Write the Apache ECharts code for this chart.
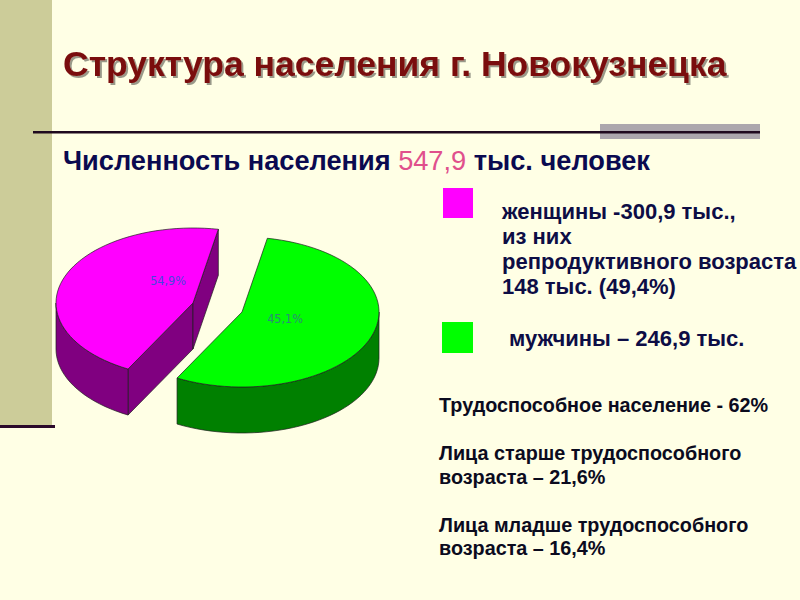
<!DOCTYPE html>
<html>
<head>
<meta charset="utf-8">
<script src="https://cdn.jsdelivr.net/npm/echarts@6/dist/echarts.min.js"></script>
<style>
  html, body { margin: 0; padding: 0; background: #ffffe5; }
  #chart { width: 800px; height: 600px; }
</style>
</head>
<body>
<div id="chart"></div>
<script>
// Data
const categories = ['женщины', 'мужчины'];
// slice sizes as drawn in the picture (magenta, green)
const sliceShares = [45.1, 54.9];
// percent labels as printed on the slices
const sliceLabels = ['54,9%', '45,1%'];
const titleText = 'Структура населения г. Новокузнецка';
const totalText = ['Численность населения ', '547,9', ' тыс. человек'];
const womenLines = ['женщины -300,9 тыс.,', 'из них', 'репродуктивного возраста', '148 тыс. (49,4%)'];
const menLine = 'мужчины – 246,9 тыс.';
const workLines = [
    'Трудоспособное население - 62%',
    'Лица старше трудоспособного',
    'возраста – 21,6%',
    'Лица младше трудоспособного',
    'возраста – 16,4%'
];

// Styles / layout
const sans = "'Liberation Sans', Arial, sans-serif";
const narrow = "'Liberation Sans Narrow', 'Arial Narrow', 'DejaVu Sans Condensed', sans-serif";
const topColors = ['#ff00ff', '#00ff00'];
const sideColors = ['#800080', '#008000'];
const labelColors = ['#4646dc', '#2b8c78'];
const pie = { cx: 218, cy: 308, rx: 137, ry: 75, depth: 46, startDeg: 118.3 };
const explode = [[-25, -5], [24, 4]];
const labelOffset = [[-25, -23], [43, 6]];

const total = sliceShares.reduce((s, v) => s + v, 0);
const rad = d => d * Math.PI / 180;

// Draw one 3D slice: visible cut faces, front wall, then top
const renderSlice = (params, api) => {
    const i = params.dataIndex;
    let before = 0;
    for (let k = 0; k < i; k++) before += sliceShares[k];
    const value = api.value(0);
    const a0 = pie.startDeg + before / total * 360;
    const a1 = a0 + value / total * 360;
    const ox = pie.cx + explode[i][0];
    const oy = pie.cy + explode[i][1];
    const h = pie.depth;
    const pt = (deg, dy) => [ox + pie.rx * Math.cos(rad(deg)), oy + pie.ry * Math.sin(rad(deg)) + (dy || 0)];
    const arc = (from, to, dy) => {
        const n = Math.max(2, Math.ceil(Math.abs(to - from) / 3));
        const out = [];
        for (let s = 0; s <= n; s++) out.push(pt(from + (to - from) * s / n, dy));
        return out;
    };
    const line = { stroke: '#1e1e1e', lineWidth: 0.7 };
    const children = [];

    [[a0, a0 - 90], [a1, a1 + 90]].forEach(([edge, normal]) => {
        if (Math.sin(rad(normal)) > 0) {
            const p = pt(edge);
            children.push({
                type: 'polygon',
                shape: { points: [[ox, oy], p, [p[0], p[1] + h], [ox, oy + h]] },
                style: Object.assign({ fill: sideColors[i] }, line)
            });
        }
    });

    for (let k = -360; k <= 360; k += 360) {
        const f = Math.max(a0, k);
        const t = Math.min(a1, k + 180);
        if (t > f) {
            children.push({
                type: 'polygon',
                shape: { points: arc(f, t).concat(arc(t, f, h)) },
                style: Object.assign({ fill: sideColors[i] }, line)
            });
        }
    }

    children.push({
        type: 'polygon',
        shape: { points: [[ox, oy]].concat(arc(a0, a1)) },
        style: Object.assign({ fill: topColors[i] }, line)
    });

    children.push({
        type: 'text',
        x: ox + labelOffset[i][0],
        y: oy + labelOffset[i][1],
        style: {
            text: sliceLabels[i],
            fill: labelColors[i],
            fontFamily: narrow,
            fontSize: 12.5,
            align: 'center',
            verticalAlign: 'middle'
        }
    });

    return { type: 'group', children };
};

const textEl = (x, y, text, size, color) => ({
    type: 'text',
    x: x,
    y: y,
    style: {
        text: text,
        fontFamily: sans,
        fontSize: size,
        fontWeight: 'bold',
        fill: color,
        verticalAlign: 'middle'
    }
});

const graphics = [
    { type: 'rect', shape: { x: 0, y: 0, width: 52, height: 425 }, style: { fill: '#cccc99' } },
    { type: 'rect', shape: { x: 0, y: 425, width: 55, height: 3 }, style: { fill: '#2b0a2b' } },
    { type: 'rect', shape: { x: 600, y: 124, width: 160, height: 15 }, style: { fill: '#aca7ad' } },
    { type: 'rect', shape: { x: 33, y: 131, width: 727, height: 2.5 }, style: { fill: '#1f0a1f' } },
    {
        type: 'text',
        x: 63,
        y: 64,
        style: {
            text: titleText,
            fontFamily: sans,
            fontSize: 35.5,
            fontWeight: 'bold',
            fill: '#7a0a0a',
            verticalAlign: 'middle',
            textShadowColor: 'rgba(0,0,0,0.4)',
            textShadowOffsetX: 2,
            textShadowOffsetY: 2,
            textShadowBlur: 1
        }
    },
    {
        type: 'text',
        x: 63,
        y: 160,
        style: {
            text: '{a|' + totalText[0] + '}{b|' + totalText[1] + '}{a|' + totalText[2] + '}',
            verticalAlign: 'middle',
            rich: {
                a: { fontFamily: sans, fontSize: 27.2, fontWeight: 'bold', fill: '#0a0a50' },
                b: { fontFamily: sans, fontSize: 27.2, fontWeight: 'normal', fill: '#e0508c' }
            }
        }
    },
    { type: 'rect', shape: { x: 443, y: 188, width: 30, height: 30 }, style: { fill: topColors[0] } },
    { type: 'rect', shape: { x: 442, y: 322, width: 31, height: 31 }, style: { fill: topColors[1] } }
];

womenLines.forEach((t, k) => graphics.push(textEl(502, 211 + k * 25.3, t, 22, '#0d0d45')));
graphics.push(textEl(509, 338, menLine, 22, '#0d0d45'));
[405, 453, 477, 525, 548].forEach((y, k) => graphics.push(textEl(439, y, workLines[k], 19.8, '#0b0b1e')));

const chart = echarts.init(document.getElementById('chart'), null, { renderer: 'svg' });
chart.setOption({
    backgroundColor: '#ffffe5',
    animation: false,
    graphic: graphics,
    series: [{
        type: 'custom',
        coordinateSystem: 'none',
        renderItem: renderSlice,
        data: sliceShares.map((v, i) => ({ name: categories[i], value: [v] })),
        z: 10
    }]
});
</script>
</body>
</html>
